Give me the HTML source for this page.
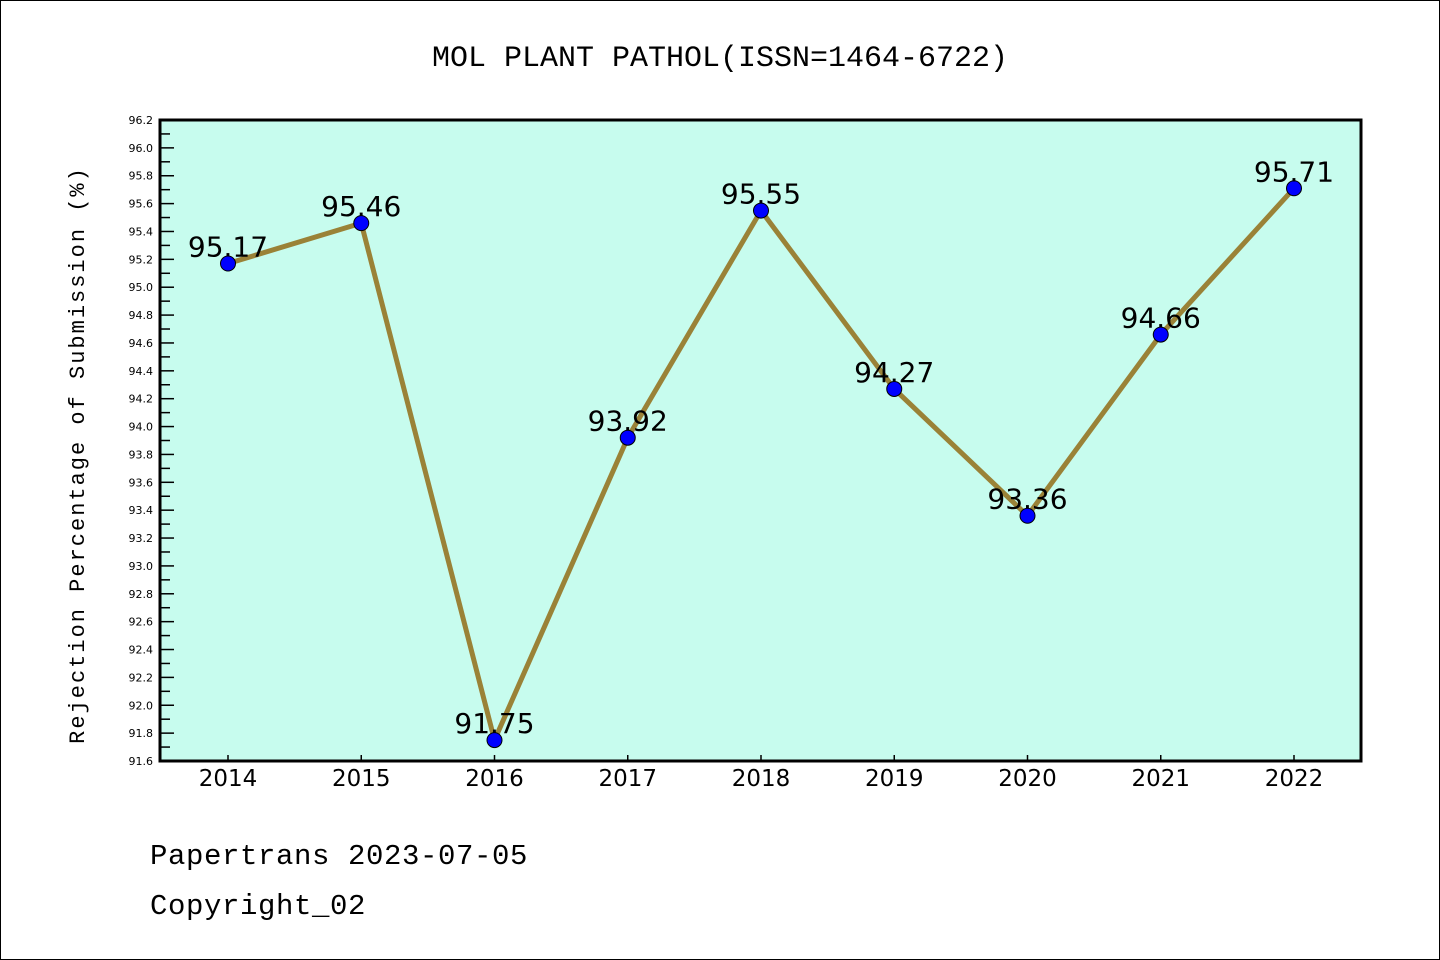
<!DOCTYPE html>
<html><head><meta charset="utf-8"><style>
body{margin:0;background:#fff;}
svg{display:block;font-family:"Liberation Mono","DejaVu Sans Mono",monospace;}
</style></head><body>
<svg id="chart" width="1440" height="960">
<rect x="0.5" y="0.5" width="1439" height="959" fill="#fff" stroke="#000"/>
<text x="720" y="66" text-anchor="middle" font-size="30">MOL PLANT PATHOL(ISSN=1464-6722)</text>
<rect x="160" y="120" width="1201" height="641" fill="#c7fcee"/>
<g id="yticks"></g><g id="xticks"></g><g id="series"></g>
<rect x="160" y="120" width="1201" height="641" fill="none" stroke="#000" stroke-width="3"/>
<text transform="translate(84,455) rotate(-90)" text-anchor="middle" font-size="22" letter-spacing="2">Rejection Percentage of Submission (%)</text>
<text x="150" y="864" font-size="29" letter-spacing="0.6">Papertrans 2023-07-05</text>
<text x="150" y="914" font-size="29" letter-spacing="0.6">Copyright_02</text>
</svg>
<script>
const categories=["2014","2015","2016","2017","2018","2019","2020","2021","2022"];
const values=[95.17,95.46,91.75,93.92,95.55,94.27,93.36,94.66,95.71];
const labels=["95.17","95.46","91.75","93.92","95.55","94.27","93.36","94.66","95.71"];
const yMin=91.6,yMax=96.2;
const NS="http://www.w3.org/2000/svg";
function ys(v){return 761-(v-yMin)/(yMax-yMin)*641;}
function xs(i){return 228+i*133.25;}
function mk(t,a,p){const e=document.createElementNS(NS,t);for(const k in a)e.setAttribute(k,a[k]);p.appendChild(e);return e;}
const yt=document.getElementById('yticks');
for(let k=0;k<=46;k++){
  const v=yMin+k*0.1;const y=ys(v);const major=k%2===0;
  const l=mk('line',{x1:160,x2:160+(major?14:10),y1:y,y2:y,stroke:'#000','stroke-width':1.5},yt);
  
  
  if(major){const t=mk('text',{x:153,y:y+4,'text-anchor':'end','font-size':11,'font-family':'DejaVu Sans, sans-serif'},yt);t.textContent=v.toFixed(1);
  
  }
}
const xt=document.getElementById('xticks');
categories.forEach((c,i)=>{
  const x=xs(i);
  const l=mk('line',{x1:x,x2:x,y1:761,y2:755,stroke:'#000','stroke-width':1.5},xt);
  
  
  const t=mk('text',{x:x,y:786,'text-anchor':'middle','font-size':23,'font-family':'DejaVu Sans, sans-serif'},xt);t.textContent=c;
  
  
});
const s=document.getElementById('series');
const pl=mk('polyline',{points:values.map((v,i)=>xs(i)+','+ys(v)).join(' '),fill:'none',stroke:'#9a8237','stroke-width':5},s);


values.forEach((v,i)=>{
  const c=mk('circle',{cx:xs(i),cy:ys(v),r:7.5,fill:'#0000ff',stroke:'#000','stroke-width':1},s);
  
  
  const t=mk('text',{x:xs(i),y:ys(v)-7,'text-anchor':'middle','font-size':28,'font-family':'DejaVu Sans, sans-serif'},s);t.textContent=labels[i];
  
  
});
</script>
</body></html>
